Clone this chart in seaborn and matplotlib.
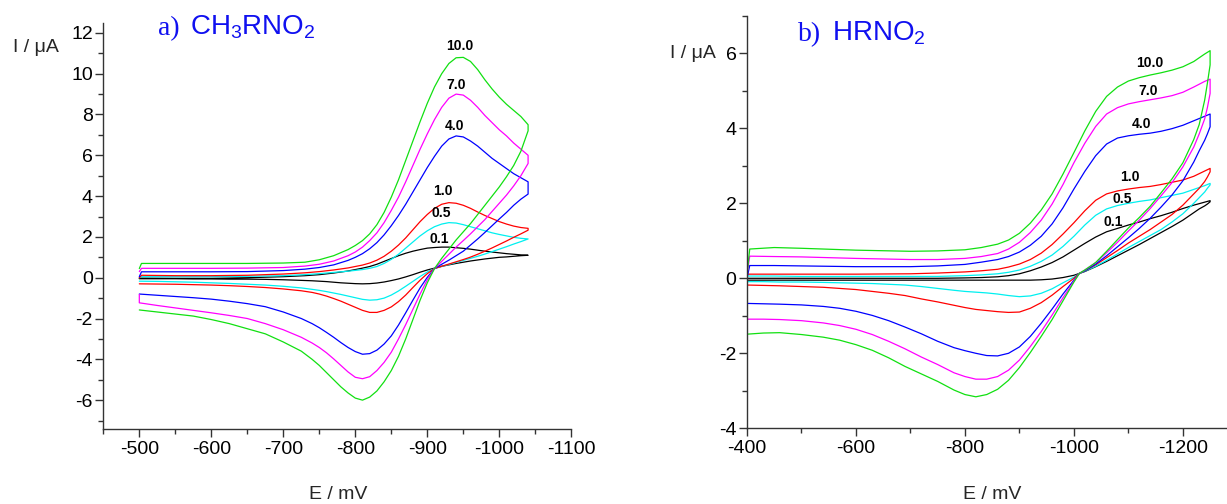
"""Cyclic voltammograms of CH3RNO2 and HRNO2 at several scan rates."""

import pandas as pd
import matplotlib
matplotlib.use('Agg')
import matplotlib.pyplot as plt
from matplotlib.ticker import MultipleLocator
import seaborn as sns


RATES = ['0.1', '0.5', '1.0', '4.0', '7.0', '10.0']
COLORS = {'0.1': '#000000', '0.5': '#00f0f0', '1.0': '#ff0000',
          '4.0': '#0000ff', '7.0': '#ff00ff', '10.0': '#11e011'}

# ---- panel a) CH3RNO2 : forward scan (-500 -> -1040 mV) ----
A_FWD_E = [-500, -503, -550, -600, -650, -700, -730, -750, -770, -790,
           -800, -810, -820, -830, -840, -850, -860, -870, -880, -890,
           -900, -910, -920, -930, -940, -950, -960, -970, -980, -990,
           -1000, -1010, -1020, -1030, -1040]
A_FWD_10_0 = [0.45, 0.70, 0.70, 0.70, 0.70, 0.72, 0.76, 0.88, 1.08, 1.38,
              1.58, 1.82, 2.15, 2.6, 3.2, 3.95, 4.8, 5.75, 6.7, 7.65,
              8.55, 9.35, 10.0, 10.5, 10.78, 10.8, 10.6, 10.2, 9.7, 9.25,
              8.85, 8.5, 8.2, 7.9, 7.5]
A_FWD_7_0 = [0.30, 0.46, 0.46, 0.46, 0.47, 0.50, 0.57, 0.66, 0.82, 1.08,
             1.26, 1.5, 1.82, 2.2, 2.7, 3.3, 3.95, 4.7, 5.5, 6.3,
             7.05, 7.75, 8.35, 8.8, 9.0, 8.95, 8.7, 8.35, 7.95, 7.6,
             7.25, 6.95, 6.6, 6.3, 6.0]
A_FWD_4_0 = [0.05, 0.29, 0.29, 0.29, 0.30, 0.35, 0.42, 0.50, 0.63, 0.85,
             1.0, 1.18, 1.42, 1.72, 2.1, 2.55, 3.05, 3.6, 4.2, 4.8,
             5.4, 5.95, 6.45, 6.8, 6.95, 6.9, 6.7, 6.45, 6.15, 5.85,
             5.6, 5.35, 5.1, 4.9, 4.7]
A_FWD_1_0 = [0.0, 0.12, 0.10, 0.10, 0.12, 0.18, 0.24, 0.30, 0.38, 0.48,
             0.55, 0.62, 0.72, 0.86, 1.05, 1.3, 1.6, 1.95, 2.35, 2.75,
             3.1, 3.4, 3.6, 3.68, 3.65, 3.55, 3.4, 3.22, 3.05, 2.9,
             2.75, 2.63, 2.53, 2.46, 2.42]
A_FWD_0_5 = [0.0, 0.05, 0.05, 0.05, 0.07, 0.10, 0.15, 0.20, 0.26, 0.32,
             0.36, 0.40, 0.46, 0.55, 0.7, 0.9, 1.15, 1.45, 1.75, 2.05,
             2.3, 2.5, 2.63, 2.7, 2.68, 2.6, 2.5, 2.4, 2.3, 2.2,
             2.12, 2.05, 1.98, 1.93, 1.9]
A_FWD_0_1 = [-0.03, -0.02, -0.03, -0.03, 0.0, 0.05, 0.10, 0.15, 0.23, 0.33,
             0.40, 0.47, 0.55, 0.66, 0.8, 0.94, 1.08, 1.2, 1.3, 1.38,
             1.45, 1.48, 1.5, 1.5, 1.47, 1.44, 1.4, 1.35, 1.3, 1.26,
             1.22, 1.18, 1.15, 1.12, 1.1]

# ---- panel a) reverse scan (-1040 -> -500 mV) ----
A_REV_E = [-1040, -1030, -1020, -1010, -1000, -990, -980, -970, -960, -950,
           -940, -930, -920, -910, -900, -890, -880, -870, -860, -850,
           -840, -830, -820, -810, -800, -790, -780, -770, -760, -750,
           -740, -725, -700, -675, -650, -625, -600, -575, -550, -525, -500]
A_REV_10_0 = [7.2, 6.2, 5.5, 4.95, 4.45, 4.0, 3.55, 3.1, 2.65, 2.25,
              1.85, 1.4, 0.95, 0.45, -0.25, -1.1, -2.05, -3.0, -3.85, -4.55,
              -5.1, -5.55, -5.85, -6.0, -5.9, -5.65, -5.35, -5.0, -4.65, -4.3,
              -4.0, -3.6, -3.15, -2.75, -2.5, -2.25, -2.05, -1.88, -1.78, -1.68, -1.58]
A_REV_7_0 = [5.6, 5.0, 4.5, 4.05, 3.65, 3.25, 2.85, 2.5, 2.15, 1.82,
             1.5, 1.15, 0.8, 0.45, -0.1, -0.8, -1.55, -2.3, -3.0, -3.65,
             -4.15, -4.55, -4.85, -4.95, -4.88, -4.62, -4.3, -3.98, -3.68, -3.42,
             -3.2, -2.92, -2.55, -2.25, -2.0, -1.85, -1.72, -1.6, -1.48, -1.36, -1.23]
A_REV_4_0 = [4.1, 3.85, 3.55, 3.2, 2.88, 2.55, 2.22, 1.9, 1.6, 1.3,
             1.08, 0.86, 0.66, 0.45, 0.02, -0.5, -1.1, -1.72, -2.32, -2.85,
             -3.25, -3.55, -3.72, -3.75, -3.62, -3.42, -3.18, -2.92, -2.68, -2.45,
             -2.25, -2.0, -1.68, -1.42, -1.27, -1.15, -1.05, -0.98, -0.92, -0.86, -0.8]
A_REV_1_0 = [2.33, 2.15, 1.98, 1.8, 1.63, 1.46, 1.3, 1.15, 1.01, 0.89,
             0.78, 0.67, 0.56, 0.45, 0.2, -0.12, -0.48, -0.85, -1.17, -1.43,
             -1.6, -1.7, -1.7, -1.6, -1.45, -1.3, -1.15, -1.02, -0.9, -0.8,
             -0.72, -0.64, -0.55, -0.48, -0.43, -0.39, -0.36, -0.34, -0.32, -0.31, -0.3]
A_REV_0_5 = [1.9, 1.77, 1.65, 1.52, 1.4, 1.28, 1.16, 1.05, 0.95, 0.85,
             0.75, 0.65, 0.55, 0.45, 0.28, 0.06, -0.18, -0.42, -0.65, -0.85,
             -1.0, -1.08, -1.1, -1.06, -0.98, -0.9, -0.82, -0.75, -0.68, -0.62,
             -0.57, -0.5, -0.42, -0.36, -0.32, -0.28, -0.25, -0.22, -0.2, -0.18, -0.17]
A_REV_0_1 = [1.1, 1.08, 1.05, 1.02, 1.0, 0.96, 0.92, 0.87, 0.82, 0.76,
             0.7, 0.63, 0.56, 0.47, 0.38, 0.27, 0.15, 0.04, -0.06, -0.14,
             -0.21, -0.26, -0.29, -0.3, -0.29, -0.27, -0.25, -0.22, -0.19, -0.17,
             -0.15, -0.13, -0.1, -0.08, -0.07, -0.07, -0.06, -0.06, -0.05, -0.05, -0.05]
A_MAGENTA_TAIL = -0.82

# ---- panel b) HRNO2 : forward scan (-400 -> -1250 mV) ----
B_FWD_E = [-400, -405, -450, -500, -600, -700, -750, -800, -830, -860,
           -880, -900, -920, -940, -960, -980, -1000, -1020, -1040, -1060,
           -1080, -1100, -1120, -1140, -1160, -1180, -1200, -1220, -1240, -1250]
B_FWD_10_0 = [0.1, 0.78, 0.82, 0.8, 0.75, 0.72, 0.73, 0.76, 0.82, 0.91,
              1.02, 1.2, 1.47, 1.82, 2.25, 2.78, 3.35, 3.93, 4.45, 4.85,
              5.1, 5.26, 5.35, 5.42, 5.48, 5.55, 5.64, 5.78, 5.98, 6.07]
B_FWD_7_0 = [0.1, 0.59, 0.58, 0.57, 0.53, 0.5, 0.5, 0.53, 0.58, 0.66,
             0.78, 0.96, 1.22, 1.55, 1.98, 2.5, 3.08, 3.6, 4.05, 4.38,
             4.55, 4.65, 4.71, 4.76, 4.81, 4.87, 4.96, 5.1, 5.25, 5.31]
B_FWD_4_0 = [0.0, 0.34, 0.34, 0.33, 0.31, 0.31, 0.33, 0.37, 0.43, 0.5,
             0.58, 0.7, 0.88, 1.12, 1.45, 1.88, 2.38, 2.85, 3.27, 3.58,
             3.74, 3.8, 3.84, 3.87, 3.92, 3.99, 4.08, 4.2, 4.32, 4.38]
B_FWD_1_0 = [0.11, 0.11, 0.11, 0.11, 0.11, 0.12, 0.14, 0.17, 0.2, 0.24,
             0.3, 0.38, 0.5, 0.67, 0.9, 1.18, 1.48, 1.8, 2.08, 2.25,
             2.33, 2.38, 2.42, 2.45, 2.5, 2.56, 2.62, 2.72, 2.86, 2.93]
B_FWD_0_5 = [0.06, 0.06, 0.06, 0.05, 0.05, 0.05, 0.05, 0.07, 0.09, 0.12,
             0.16, 0.22, 0.32, 0.45, 0.62, 0.85, 1.12, 1.42, 1.68, 1.85,
             1.94, 2.0, 2.05, 2.09, 2.15, 2.21, 2.27, 2.37, 2.47, 2.53]
B_FWD_0_1 = [0.0, 0.0, 0.0, 0.0, 0.0, 0.0, 0.0, 0.01, 0.02, 0.04,
             0.07, 0.12, 0.2, 0.3, 0.42, 0.57, 0.75, 0.93, 1.1, 1.24,
             1.33, 1.42, 1.5, 1.59, 1.67, 1.76, 1.86, 1.95, 2.03, 2.07]

# ---- panel b) reverse scan (-1250 -> -400 mV) ----
B_REV_E = [-1250, -1245, -1240, -1230, -1220, -1200, -1180, -1160, -1140, -1120,
           -1100, -1080, -1060, -1040, -1020, -1010, -1000, -980, -960, -940,
           -920, -900, -880, -860, -840, -820, -800, -780, -750, -720,
           -690, -660, -630, -600, -570, -540, -500, -460, -430, -400]
B_REV_10_0 = [5.69, 5.2, 4.75, 4.1, 3.7, 3.08, 2.65, 2.28, 1.92, 1.62,
              1.34, 1.03, 0.72, 0.42, 0.22, 0.13, -0.1, -0.6, -1.1, -1.55,
              -1.98, -2.38, -2.72, -2.96, -3.1, -3.16, -3.1, -2.98, -2.75, -2.55,
              -2.35, -2.12, -1.92, -1.77, -1.65, -1.57, -1.5, -1.45, -1.46, -1.49]
B_REV_7_0 = [4.93, 4.55, 4.25, 3.85, 3.5, 2.97, 2.55, 2.2, 1.86, 1.55,
             1.26, 0.96, 0.68, 0.42, 0.22, 0.13, -0.08, -0.52, -0.98, -1.42,
             -1.82, -2.18, -2.45, -2.62, -2.69, -2.69, -2.62, -2.52, -2.3, -2.1,
             -1.88, -1.68, -1.5, -1.36, -1.26, -1.19, -1.13, -1.1, -1.09, -1.09]
B_REV_4_0 = [4.04, 3.85, 3.68, 3.4, 3.1, 2.6, 2.22, 1.9, 1.6, 1.33,
             1.08, 0.84, 0.6, 0.38, 0.2, 0.13, -0.05, -0.42, -0.82, -1.2,
             -1.55, -1.83, -2.0, -2.07, -2.06, -2.0, -1.93, -1.85, -1.68, -1.48,
             -1.3, -1.13, -0.99, -0.88, -0.8, -0.75, -0.71, -0.69, -0.68, -0.67]
B_REV_1_0 = [2.84, 2.7, 2.58, 2.4, 2.25, 1.95, 1.7, 1.5, 1.3, 1.12,
             0.94, 0.74, 0.55, 0.36, 0.2, 0.13, 0.0, -0.22, -0.45, -0.65,
             -0.8, -0.9, -0.91, -0.89, -0.86, -0.83, -0.78, -0.72, -0.63, -0.55,
             -0.46, -0.4, -0.35, -0.3, -0.27, -0.24, -0.22, -0.2, -0.19, -0.18]
B_REV_0_5 = [2.49, 2.4, 2.3, 2.15, 2.0, 1.72, 1.5, 1.3, 1.14, 0.98,
             0.82, 0.65, 0.48, 0.32, 0.19, 0.13, 0.03, -0.12, -0.28, -0.4,
             -0.47, -0.49, -0.46, -0.42, -0.39, -0.37, -0.35, -0.32, -0.27, -0.22,
             -0.18, -0.16, -0.14, -0.13, -0.12, -0.11, -0.1, -0.1, -0.09, -0.09]
B_REV_0_1 = [2.04, 1.98, 1.93, 1.85, 1.75, 1.55, 1.38, 1.22, 1.06, 0.9,
             0.75, 0.6, 0.45, 0.31, 0.18, 0.13, 0.08, 0.02, -0.02, -0.04,
             -0.05, -0.05, -0.05, -0.05, -0.05, -0.05, -0.05, -0.05, -0.05, -0.05,
             -0.05, -0.05, -0.05, -0.05, -0.05, -0.05, -0.05, -0.05, -0.05, -0.05]
B_MAGENTA_TAIL = -0.67

# curve labels (scan rate) and where they sit
A_LABEL_E = [-916, -919, -922, -938, -940, -945]
A_LABEL_I = [1.91, 3.15, 4.24, 7.45, 9.43, 11.34]
B_LABEL_E = [-1073, -1089, -1103, -1124, -1136, -1139]
B_LABEL_I = [1.49, 2.11, 2.70, 4.11, 4.99, 5.73]


def build_frame(fwd_e, rev_e, fwd, rev, tail_e, tail_i):
	rows = []
	for rate in RATES:
		if len(fwd[rate]) != len(fwd_e) or len(rev[rate]) != len(rev_e):
			raise ValueError(f'length mismatch for rate {rate}')
		e = fwd_e + rev_e
		i = fwd[rate] + rev[rate]
		if rate == '7.0':
			e = e + [tail_e]
			i = i + [tail_i]
		for k, (x, y) in enumerate(zip(e, i)):
			rows.append({'rate': rate, 'step': k, 'E': x, 'I': y})
	return pd.DataFrame(rows)


df_a = build_frame(
	A_FWD_E, A_REV_E,
	dict(zip(RATES, [A_FWD_0_1, A_FWD_0_5, A_FWD_1_0, A_FWD_4_0, A_FWD_7_0, A_FWD_10_0])),
	dict(zip(RATES, [A_REV_0_1, A_REV_0_5, A_REV_1_0, A_REV_4_0, A_REV_7_0, A_REV_10_0])),
	-500, A_MAGENTA_TAIL,
)
df_b = build_frame(
	B_FWD_E, B_REV_E,
	dict(zip(RATES, [B_FWD_0_1, B_FWD_0_5, B_FWD_1_0, B_FWD_4_0, B_FWD_7_0, B_FWD_10_0])),
	dict(zip(RATES, [B_REV_0_1, B_REV_0_5, B_REV_1_0, B_REV_4_0, B_REV_7_0, B_REV_10_0])),
	-400, B_MAGENTA_TAIL,
)

sns.set_style('ticks')
plt.rcParams['font.family'] = ['Liberation Sans', 'DejaVu Sans']
plt.rcParams['mathtext.fontset'] = 'custom'
plt.rcParams['mathtext.rm'] = 'Liberation Sans'
plt.rcParams['mathtext.it'] = 'Liberation Sans:italic'
plt.rcParams['axes.unicode_minus'] = False

AXIS_COLOR = '#333333'
TICK_SIZE = 14

fig = plt.figure(figsize=(12.27, 5.04), dpi=100)
ax_a = fig.add_axes([0.0842, 0.1494, 0.3814, 0.8056])
ax_b = fig.add_axes([0.6088, 0.1502, 0.3912, 0.8185])

for ax, df in ((ax_a, df_a), (ax_b, df_b)):
	sns.lineplot(data=df, x='E', y='I', hue='rate', palette=COLORS,
				 hue_order=RATES, sort=False, estimator=None,
				 linewidth=0.9, legend=False, ax=ax)
	ax.set_xlabel('')
	ax.set_ylabel('')
	for side in ('top', 'right'):
		ax.spines[side].set_visible(False)
	for side in ('left', 'bottom'):
		ax.spines[side].set_color(AXIS_COLOR)
		ax.spines[side].set_linewidth(1.0)
	ax.tick_params(which='both', direction='out', color=AXIS_COLOR, width=1.0,
				   labelsize=TICK_SIZE, labelcolor='black')
	ax.tick_params(which='major', length=6.0)
	ax.tick_params(which='minor', length=3.3)
	ax.tick_params(axis='x', pad=2.5)
	ax.tick_params(axis='y', pad=1.5)

# panel a axes
ax_a.set_xlim(-450, -1100)
ax_a.set_ylim(-7.4, 12.5)
ax_a.xaxis.set_major_locator(MultipleLocator(100))
ax_a.xaxis.set_minor_locator(MultipleLocator(50))
ax_a.yaxis.set_major_locator(MultipleLocator(2))
ax_a.yaxis.set_minor_locator(MultipleLocator(1))
ax_a.set_xticks(range(-500, -1101, -100))

# panel b axes
ax_b.set_xlim(-400, -1281)
ax_b.set_ylim(-4, 7)
ax_b.xaxis.set_major_locator(MultipleLocator(200))
ax_b.xaxis.set_minor_locator(MultipleLocator(100))
ax_b.yaxis.set_major_locator(MultipleLocator(2))
ax_b.yaxis.set_minor_locator(MultipleLocator(1))
ax_b.set_yticks([-4, -2, 0, 2, 4, 6])

# scan rate labels
for ax, es, is_ in ((ax_a, A_LABEL_E, A_LABEL_I), (ax_b, B_LABEL_E, B_LABEL_I)):
	for rate, e, i in zip(RATES, es, is_):
		ax.text(e, i, rate, ha='center', va='center', fontsize=10,
				fontweight='bold', color='black')

# axis titles
fig.text(0.0106, 0.9067, 'I / \u03bcA', fontsize=TICK_SIZE, ha='left', va='center')
fig.text(0.546, 0.893, 'I / \u03bcA', fontsize=TICK_SIZE, ha='left', va='center')
fig.text(0.276, 0.018, 'E / mV', fontsize=TICK_SIZE, ha='center', va='center')
fig.text(0.809, 0.018, 'E / mV', fontsize=TICK_SIZE, ha='center', va='center')

# panel titles
title_blue = '#1010f0'
fig.text(0.1288, 0.9306, 'a)', fontsize=20, color=title_blue,
		 family=['Liberation Serif', 'DejaVu Serif'], va='baseline')
fig.text(0.1548, 0.9306, r'CH$_\mathrm{3}$RNO$_\mathrm{2}$', fontsize=20,
		 color=title_blue, va='baseline')
fig.text(0.6504, 0.919, 'b)', fontsize=20, color=title_blue,
		 family=['Liberation Serif', 'DejaVu Serif'], va='baseline')
fig.text(0.678, 0.919, r'HRNO$_\mathrm{2}$', fontsize=20,
		 color=title_blue, va='baseline')

plt.savefig('out.png', dpi=100)
plt.close()
